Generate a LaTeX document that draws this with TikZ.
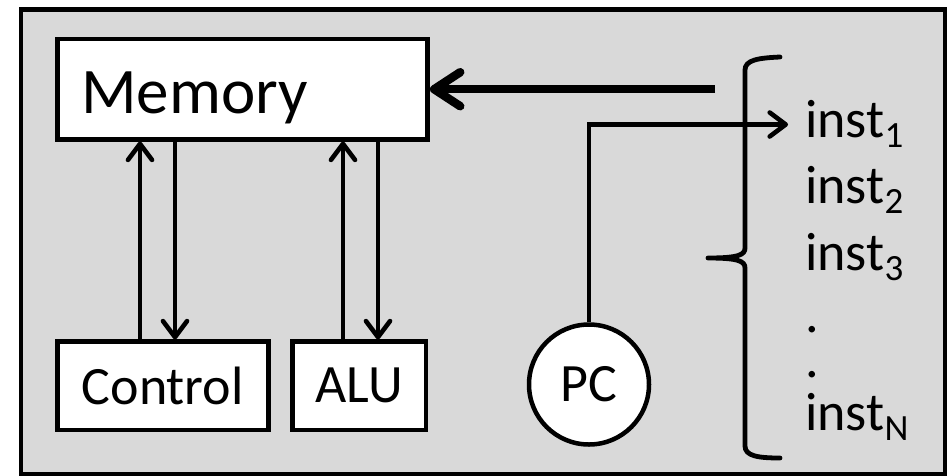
\documentclass[tikz,border=0pt]{standalone}
\usepackage{fontspec}
\setmainfont{Carlito}
\usetikzlibrary{arrows.meta}
\definecolor{bggray}{HTML}{D9D9D9}
\newcommand\mysub[1]{\raisebox{-10pt}{\fontsize{37}{37}\selectfont #1}}
\begin{document}
\begin{tikzpicture}[x=1pt,y=-1pt,
 box/.style={draw=black,fill=white,line width=4.5pt,inner sep=0pt,font=\fontsize{54}{54}\selectfont},
 arr/.style={line width=4.6pt,-{Straight Barb[length=16pt,width=24pt,round]}},
 bigarr/.style={line width=8.5pt,-{Straight Barb[length=26pt,width=34pt,round]}},
 lbl/.style={font=\fontsize{54}{54}\selectfont,anchor=base west,inner sep=0pt},
 brace/.style={line width=4.8pt,line cap=round,line join=round}
]
\useasboundingbox (0,0) rectangle (948,475);
\node[draw=black,fill=bggray,line width=4.5pt,inner sep=0pt,minimum width=923.8pt,minimum height=465pt,anchor=north west] (frame) at (18.7,7) {};
% boxes
\node[box,minimum width=370.4pt,minimum height=100.3pt] (mem) at (242.5,89.2) {};
\node[lbl,font=\fontsize{65}{65}\selectfont] (memtext) at (81,113) {Memory};
\node[box,minimum width=211pt,minimum height=88.3pt] (ctrl) at (162.8,385.8) {Control};
\node[box,minimum width=133.3pt,minimum height=88.3pt] (alu) at (359.3,385.8) {ALU};
\node[box,circle,minimum size=120pt] (pc) at (589,384.5) {PC};
% instruction list
\node[lbl] (i1) at (805,137) {inst\mysub{1}};
\node[lbl] (i2) at (805,203) {inst\mysub{2}};
\node[lbl] (i3) at (805,270) {inst\mysub{3}};
\node[lbl] (d1) at (805,332) {.};
\node[lbl] (d2) at (805,377) {.};
\node[lbl] (iN) at (805,430) {inst\mysub{N}};
% connectors
\coordinate (xa) at (140,0);
\coordinate (xb) at (175,0);
\coordinate (xc) at (343,0);
\coordinate (xd) at (378,0);
\draw[arr] (ctrl.north -| xa) -- (mem.south -| xa);
\draw[arr] (mem.south -| xb) -- (ctrl.north -| xb);
\draw[arr] (alu.north -| xc) -- (mem.south -| xc);
\draw[arr] (mem.south -| xd) -- (alu.north -| xd);
\coordinate (bigstart) at (715,89.2);
\draw[bigarr] (bigstart) -- (mem.east);
\coordinate (pcend) at (788,124.5);
\draw[arr] (pc.north) |- (pcend);
% brace
\draw[brace] (780,57) .. controls (758,58) and (745,60) .. (745,70) -- (745,248)
  .. controls (745,255) and (738,258) .. (708,258)
  .. controls (738,258) and (745,261) .. (745,268) -- (745,446)
  .. controls (745,456) and (758,458) .. (780,458);
\end{tikzpicture}
\end{document}
